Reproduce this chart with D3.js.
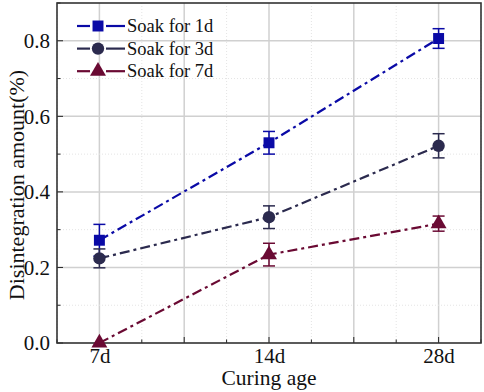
<!DOCTYPE html>
<html><head><meta charset="utf-8">
<script src="https://cdn.jsdelivr.net/npm/d3@7"></script>
<style>body{margin:0;background:#fff}svg{display:block}</style>
</head><body>
<script>
const categories = ["7d", "14d", "28d"];
const seriesNames = ["Soak for 1d", "Soak for 3d", "Soak for 7d"];
const soak1d = [0.272, 0.530, 0.806];
const soak1dErr = [0.042, 0.030, 0.026];
const soak3d = [0.224, 0.333, 0.522];
const soak3dErr = [0.025, 0.030, 0.032];
const soak7d = [0.0, 0.234, 0.316];
const soak7dErr = [0.0, 0.030, 0.020];
const yTicks = [0.0, 0.2, 0.4, 0.6, 0.8];
const colors = ["#0a0aa6", "#2b2a4e", "#6a0a33"];
const symbols = [d3.symbolSquare, d3.symbolCircle, d3.symbolTriangle];
const FONT = '"Liberation Serif", "Times New Roman", serif';

const W = 484, H = 392;
const m = {l: 57, r: 3, t: 3, b: 49};
const svg = d3.select("body").append("svg").attr("width", W).attr("height", H);
const x = d3.scaleLinear().domain([-0.25, 2.25]).range([m.l, W - m.r]);
const y = d3.scaleLinear().domain([0, 0.9]).range([H - m.b, m.t]);

function txt(sel, size) {
  return sel.style("font-family", FONT).style("font-size", size + "px").style("fill", "#111");
}

// grid
const g = svg.append("g");
d3.range(-0.25, 2.26, 0.25).forEach(v => {
  const major = Math.abs(v * 2 - Math.round(v * 2)) < 1e-6;
  g.append("line").attr("x1", x(v)).attr("x2", x(v)).attr("y1", y(0)).attr("y2", y(0.9))
    .attr("stroke", major ? "#d0d0d0" : "#e4e4e4").attr("stroke-width", major ? 1.5 : 1)
    .attr("stroke-dasharray", major ? null : "1,2");
});
d3.range(0.1, 0.9, 0.1).forEach((v, i) => {
  const major = (i % 2) === 1;
  g.append("line").attr("x1", x(-0.25)).attr("x2", x(2.25)).attr("y1", y(v)).attr("y2", y(v))
    .attr("stroke", major ? "#d0d0d0" : "#e4e4e4").attr("stroke-width", major ? 1.5 : 1)
    .attr("stroke-dasharray", major ? null : "1,2");
});

// axes
const xAxis = d3.axisBottom(x).tickValues([0, 1, 2]).tickFormat(i => categories[i]).tickSize(0).tickPadding(5);
const xa = svg.append("g").attr("transform", `translate(0,${y(0)})`).call(xAxis);
xa.select(".domain").remove();
txt(xa.selectAll("text"), 21);
const yAxis = d3.axisLeft(y).tickValues(yTicks).tickFormat(d3.format(".1f")).tickSize(0).tickPadding(7);
const ya = svg.append("g").attr("transform", `translate(${x(-0.25)},0)`).call(yAxis);
ya.select(".domain").remove();
txt(ya.selectAll("text"), 21);

// inward ticks
d3.range(0, 2.26, 0.25).concat([-0.25]).forEach(v => {
  const major = Math.abs(v * 2 - Math.round(v * 2)) < 1e-6;
  svg.append("line").attr("x1", x(v)).attr("x2", x(v)).attr("y1", y(0)).attr("y2", y(0) - (major ? 6 : 3.5))
    .attr("stroke", "#222").attr("stroke-width", 1);
});
d3.range(0, 0.91, 0.1).forEach((v, i) => {
  const major = (i % 2) === 0;
  svg.append("line").attr("x1", x(-0.25)).attr("x2", x(-0.25) + (major ? 6 : 3.5)).attr("y1", y(v)).attr("y2", y(v))
    .attr("stroke", "#222").attr("stroke-width", 1);
});

// frame
svg.append("rect").attr("x", x(-0.25)).attr("y", y(0.9)).attr("width", x(2.25) - x(-0.25)).attr("height", y(0) - y(0.9))
  .attr("fill", "none").attr("stroke", "#333").attr("stroke-width", 1.6);

// titles
txt(svg.append("text").attr("x", (x(-0.25) + x(2.25)) / 2).attr("y", 385).attr("text-anchor", "middle"), 21.5)
  .text("Curing age");
txt(svg.append("text").attr("transform", `translate(24,185) rotate(-90)`).attr("text-anchor", "middle"), 22)
  .text("Disintegration amount(%)");

// series
const series = [[soak1d, soak1dErr], [soak3d, soak3dErr], [soak7d, soak7dErr]];
const line = d3.line().x((d, i) => x(i)).y(d => y(d));
const dash = "10,4,3,4";
series.forEach(([vals, errs], s) => {
  const c = colors[s];
  svg.append("path").attr("d", line(vals)).attr("fill", "none").attr("stroke", c).attr("stroke-width", 2.2)
    .attr("stroke-dasharray", dash);
  vals.forEach((v, i) => {
    if (errs[i] > 0) {
      const eg = svg.append("g").attr("stroke", c).attr("stroke-width", 1.5);
      eg.append("line").attr("x1", x(i)).attr("x2", x(i)).attr("y1", y(v - errs[i])).attr("y2", y(v + errs[i]));
      eg.append("line").attr("x1", x(i) - 6).attr("x2", x(i) + 6).attr("y1", y(v - errs[i])).attr("y2", y(v - errs[i]));
      eg.append("line").attr("x1", x(i) - 6).attr("x2", x(i) + 6).attr("y1", y(v + errs[i])).attr("y2", y(v + errs[i]));
    }
    svg.append("path").attr("d", d3.symbol().type(symbols[s]).size(s === 2 ? 110 : 120)())
      .attr("transform", `translate(${x(i)},${y(v)})`).attr("fill", c);
  });
});

// legend
const lg = svg.append("g");
seriesNames.forEach((n, s) => {
  const yy = 26 + s * 22.6;
  const c = colors[s];
  lg.append("line").attr("x1", 77).attr("x2", 90).attr("y1", yy).attr("y2", yy).attr("stroke", c).attr("stroke-width", 2.2);
  lg.append("line").attr("x1", 106).attr("x2", 125).attr("y1", yy).attr("y2", yy).attr("stroke", c).attr("stroke-width", 2.2);
  lg.append("path").attr("d", d3.symbol().type(symbols[s]).size(s === 2 ? 110 : 120)())
    .attr("transform", `translate(98,${yy})`).attr("fill", c);
  txt(lg.append("text").attr("x", 127).attr("y", yy + 6), 18.5).text(n);
});
</script>
</body></html>
